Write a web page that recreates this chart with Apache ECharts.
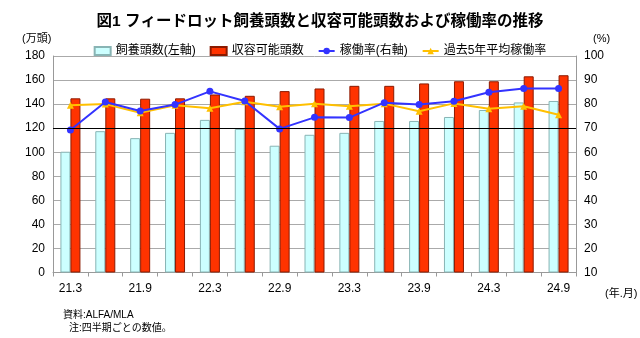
<!DOCTYPE html>
<html><head><meta charset="utf-8">
<script src="https://cdn.jsdelivr.net/npm/echarts@6/dist/echarts.min.js"></script>
<style>html,body{margin:0;padding:0;background:#fff}#c{width:640px;height:338px}</style>
</head><body><div id="c"></div>
<script>
const categories = ['21.3','21.6','21.9','21.12','22.3','22.6','22.9','22.12','23.3','23.6','23.9','23.12','24.3','24.6','24.9'];
const headCount = [100.4,117.5,111.7,116.1,126.9,119.4,105.4,114.5,116.1,126,126,129.3,135.1,141.4,142.6];
const capacity = [144.8,144.8,144.5,144.8,148,146.9,150.8,153,155.2,155.2,157.2,159,159,163.1,164];
const utilization = [69.2,80.9,77.1,79.8,85.3,81.3,69.7,74.5,74.4,80.6,79.8,81.2,84.9,86.5,86.5];
const avg5yr = [79.5,80,76.4,79.5,78.3,81,78.9,80.2,79.1,80.2,77,80.3,78.1,79.1,75.6];
const seriesNames = ['飼養頭数(左軸)','収容可能頭数','稼働率(右軸)','過去5年平均稼働率'];

const FONT = '"Liberation Sans", "Noto Sans CJK JP", sans-serif';
const chart = echarts.init(document.getElementById('c'));
chart.setOption({
  animation: false,
  textStyle: {fontFamily: FONT},
  title: [
    {text: '図1 フィードロット飼養頭数と収容可能頭数および稼働率の推移', left: 'center', top: 9,
     textStyle: {fontSize: 15.5, fontWeight: 'bold', color: '#000', fontFamily: FONT}},
    {text: '(万頭)', left: 17, top: 28, textStyle: {fontSize: 11, fontWeight: 'normal', color: '#000'}},
    {text: '(%)', left: 588, top: 28, textStyle: {fontSize: 11, fontWeight: 'normal', color: '#000'}},
    {text: '(年.月)', left: 600, top: 283, textStyle: {fontSize: 11, fontWeight: 'normal', color: '#000'}},
    {text: '資料:ALFA/MLA', left: 58, top: 305, textStyle: {fontSize: 10, fontWeight: 'normal', color: '#000'}},
    {text: '注:四半期ごとの数値。', left: 64, top: 318, textStyle: {fontSize: 10, fontWeight: 'normal', color: '#000'}}
  ],
  legend: {
    top: 40, left: 'center', itemWidth: 16, itemHeight: 8, itemGap: 14,
    textStyle: {fontSize: 12, color: '#000'},
    data: [
      {name: seriesNames[0], icon: 'rect'},
      {name: seriesNames[1], icon: 'rect'},
      {name: seriesNames[2]},
      {name: seriesNames[3]}
    ]
  },
  grid: {left: 53, right: 64, top: 56, bottom: 65.5},
  xAxis: {
    type: 'category', data: categories, boundaryGap: true,
    axisLine: {lineStyle: {color: '#999'}},
    axisTick: {show: true, interval: 0, length: 4, lineStyle: {color: '#999'}},
    axisLabel: {interval: 1, color: '#000', fontSize: 12, margin: 10}
  },
  yAxis: [
    {type: 'value', min: 0, max: 180, interval: 20,
     axisLine: {show: true, lineStyle: {color: '#999'}}, axisTick: {show: false},
     axisLabel: {color: '#000', fontSize: 12, margin: 8},
     splitLine: {lineStyle: {color: '#aaa'}}},
    {type: 'value', min: 10, max: 100, interval: 10,
     axisLine: {show: true, lineStyle: {color: '#999'}}, axisTick: {show: false},
     axisLabel: {color: '#000', fontSize: 12, margin: 8},
     splitLine: {show: false}}
  ],
  series: [
    {name: seriesNames[0], type: 'bar', data: headCount, yAxisIndex: 0, barWidth: 10, barGap: '0%',
     itemStyle: {color: '#ccffff', borderColor: '#88b4b4', borderWidth: 1},
     markLine: {silent: true, symbol: 'none', label: {show: false},
       lineStyle: {color: '#000', type: 'solid', width: 1.2}, data: [{yAxis: 120}]}},
    {name: seriesNames[1], type: 'bar', data: capacity, yAxisIndex: 0, barWidth: 10,
     itemStyle: {color: '#ff3300', borderColor: '#8b1a00', borderWidth: 1}},
    {name: seriesNames[2], type: 'line', data: utilization, yAxisIndex: 1,
     symbol: 'circle', symbolSize: 7, z: 4,
     lineStyle: {color: '#3333ff', width: 2}, itemStyle: {color: '#3333ff'}},
    {name: seriesNames[3], type: 'line', data: avg5yr, yAxisIndex: 1,
     symbol: 'triangle', symbolSize: 7, z: 3,
     lineStyle: {color: '#ffc000', width: 2}, itemStyle: {color: '#ffc000'}}
  ]
});
</script></body></html>
